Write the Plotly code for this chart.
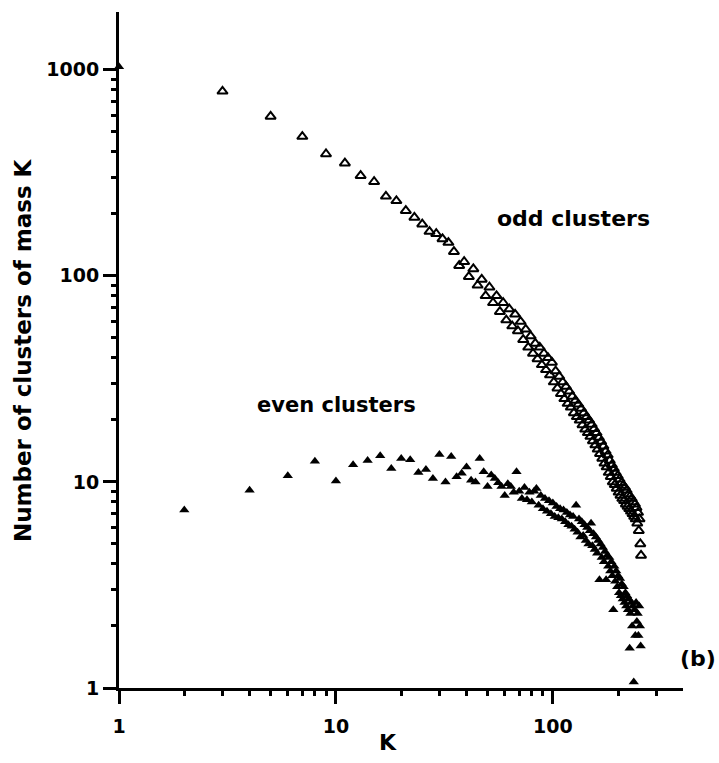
import plotly.graph_objects as go

# ---- data ----
k_monomer = [1]
n_monomer = [1035]

k_odd = list(range(3, 257, 2))
n_odd = [785, 593, 474, 390, 352, 306, 286, 243, 231, 207,
         192, 178, 164, 160, 151, 145, 131, 112, 117, 99,
         108, 90, 96, 80, 88, 74, 80, 67, 74, 61,
         69, 57, 65, 54, 60, 49, 55, 45, 51, 42,
         47, 39.5, 45, 37, 42, 35, 40, 33, 38, 30.5,
         34.5, 28.5, 32.5, 26.8, 30.5, 25.3, 29, 24, 27.5, 23,
         26, 21.6, 24.8, 20.7, 23.8, 19.9, 22.7, 18.9, 21.6, 18,
         20.7, 17.3, 19.9, 16.6, 19, 15.8, 18.1, 15.1, 17.3, 14.4,
         16.4, 13.7, 15.7, 13, 14.9, 12.3, 14.1, 11.8, 13.5, 11.1,
         12.7, 10.6, 12.1, 10, 11.6, 9.7, 11.1, 9.3, 10.7, 8.9,
         10.3, 8.6, 9.9, 8.3, 9.6, 8.1, 9.4, 7.8, 9.1, 7.6,
         8.7, 7.4, 8.5, 7.2, 8.3, 7.0, 8.0, 6.8, 7.8, 6.6,
         7.5, 6.3, 7.1, 5.8, 6.6, 5.0, 4.4]

k_even = list(range(2, 256, 2))
n_even = [7.3, 9.1, 10.7, 12.6, 10.1, 12.1, 12.7, 13.4, 11.6, 13.0,
          12.8, 11.1, 11.5, 10.4, 13.6, 10.0, 13.3, 10.6, 11.0, 11.8,
          10.2, 10.0, 13.0, 11.2, 9.5, 10.8, 10.4, 9.9, 9.5, 8.6,
          9.8, 9.5, 8.9, 11.2, 9.0, 8.3, 9.4, 8.2, 8.9, 8.0,
          9.0, 9.3, 7.7, 8.6, 7.4, 8.3, 7.2, 8.1, 7.0, 7.9,
          6.8, 7.6, 6.7, 7.4, 6.6, 7.3, 6.4, 7.1, 6.2, 6.9,
          6.1, 6.8, 5.9, 7.7, 5.7, 6.6, 5.4, 6.4, 5.5, 6.2,
          5.2, 6.0, 5.0, 5.8, 6.3, 4.9, 5.6, 4.7, 5.4, 4.5,
          5.2, 3.35, 5.0, 4.3, 4.8, 4.1, 4.6, 3.35, 4.4, 3.9,
          4.3, 3.7, 4.1, 3.5, 2.4, 3.9, 3.3, 3.7, 3.1, 3.5,
          2.9, 3.4, 2.8, 3.2, 2.7, 3.1, 2.6, 2.9, 2.5, 2.8,
          2.4, 2.7, 1.56, 2.3, 2.6, 2.0, 2.5, 1.07, 2.4, 1.8,
          2.6, 2.1, 2.3, 1.8, 2.5, 2.0, 1.6]

x_tickvals = [1, 10, 100]
x_ticktext = ["1", "10", "100"]
y_tickvals = [1, 10, 100, 1000]
y_ticktext = ["1", "10", "100", "1000"]
x_minor = [2, 3, 4, 5, 6, 7, 8, 9, 20, 30, 40, 50, 60, 70, 80, 90, 200, 300]
y_minor = [2, 3, 4, 5, 6, 7, 8, 9, 20, 30, 40, 50, 60, 70, 80, 90,
           200, 300, 400, 500, 600, 700, 800, 900]

FONT = "DejaVu Sans"
X_RANGE = [0, 2.6]
Y_RANGE = [0, 3.28]

fig = go.Figure()
fig.add_trace(go.Scatter(x=k_odd, y=n_odd, mode="markers", name="odd clusters",
                         marker=dict(symbol="triangle-up-open", size=9, color="black",
                                     line=dict(width=2, color="black")),
                         cliponaxis=False))
fig.add_trace(go.Scatter(x=k_even, y=n_even, mode="markers", name="even clusters",
                         marker=dict(symbol="triangle-up", size=9, color="black"),
                         cliponaxis=False))
fig.add_trace(go.Scatter(x=k_monomer, y=n_monomer, mode="markers", name="K=1",
                         marker=dict(symbol="triangle-up", size=9, color="black"),
                         cliponaxis=False))
# invisible anchor trace so the minor-tick overlay axes are drawn
fig.add_trace(go.Scatter(x=k_monomer, y=n_monomer, xaxis="x2", yaxis="y2", mode="markers",
                         marker=dict(opacity=0), hoverinfo="skip", showlegend=False))

tickfont = dict(family=FONT, size=19, color="black", weight="bold")
major = dict(showgrid=False, zeroline=False, showline=True, linecolor="black",
             linewidth=3, ticks="outside", ticklen=13, tickwidth=2.5, tickcolor="black",
             tickfont=tickfont, tickmode="array")
minor = dict(showgrid=False, zeroline=False, showline=False, ticks="outside", ticklen=7,
             tickwidth=2.5, tickcolor="black", showticklabels=False, tickmode="array")

fig.update_layout(
    xaxis=dict(type="log", range=X_RANGE, tickvals=x_tickvals, ticktext=x_ticktext,
               ticklabelstandoff=6, **major),
    yaxis=dict(type="log", range=Y_RANGE, tickvals=y_tickvals, ticktext=y_ticktext, **major),
    xaxis2=dict(type="log", range=X_RANGE, tickvals=x_minor, overlaying="x", anchor="y",
                side="bottom", **minor),
    yaxis2=dict(type="log", range=Y_RANGE, tickvals=y_minor, overlaying="y", anchor="x",
                side="left", **minor),
)

ann_font = dict(family=FONT, color="black", weight="bold")
ann_common = dict(xref="paper", yref="paper", showarrow=False,
                  xanchor="center", yanchor="middle")
fig.add_annotation(text="odd clusters", x=0.805, y=0.695,
                   font=dict(size=22, **ann_font), **ann_common)
fig.add_annotation(text="even clusters", x=0.385, y=0.419,
                   font=dict(size=21, **ann_font), **ann_common)
fig.add_annotation(text="(b)", x=1.027, y=0.043,
                   font=dict(size=22, **ann_font), **ann_common)
fig.add_annotation(text="K", x=0.477, y=-0.080,
                   font=dict(size=22, **ann_font), **ann_common)
fig.add_annotation(text="Number of clusters of mass K", x=-0.170, y=0.5, textangle=-90,
                   font=dict(size=23, **ann_font), **ann_common)

fig.update_layout(width=719, height=763, margin=dict(l=119, r=36, t=12, b=75),
                  paper_bgcolor="white", plot_bgcolor="white", showlegend=False)

fig.write_html("out.html")
